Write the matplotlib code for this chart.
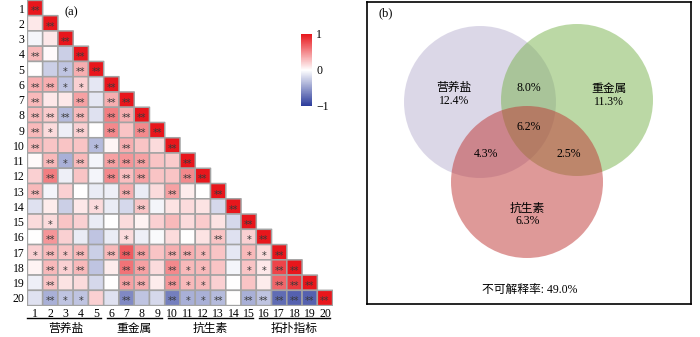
import numpy as np
import matplotlib
matplotlib.use('Agg')
import matplotlib.pyplot as plt
from matplotlib.colors import LinearSegmentedColormap
from matplotlib.patches import Circle

plt.rcParams['font.family'] = ['Liberation Serif', 'Noto Sans CJK SC']
plt.rcParams['axes.unicode_minus'] = True

# ---------------- data ----------------
var_labels = [str(i) for i in range(1, 21)]
group_names = ['营养盐', '重金属', '抗生素', '拓扑指标']
group_spans = [(1, 5), (6, 9), (10, 15), (16, 20)]

r01 = [1.0]
r02 = [0.10, 1.0]
r03 = [-0.05, 0.10, 1.0]
r04 = [0.30, 0.02, -0.25, 1.0]
r05 = [0.00, -0.25, -0.30, 0.35, 1.0]
r06 = [0.35, 0.35, -0.30, 0.20, -0.12, 1.0]
r07 = [0.30, 0.10, 0.10, 0.40, -0.12, 0.35, 1.0]
r08 = [0.30, 0.22, -0.35, 0.30, -0.15, 0.55, 0.35, 1.0]
r09 = [0.30, 0.15, -0.08, 0.20, 0.00, 0.50, 0.25, 0.50, 1.0]
r10 = [0.30, 0.25, 0.25, 0.25, -0.35, 0.04, 0.35, 0.25, 0.15, 1.0]
r11 = [0.03, 0.30, -0.40, 0.30, -0.05, 0.40, 0.45, 0.40, 0.25, 0.22, 1.0]
r12 = [0.20, 0.55, -0.08, 0.25, -0.05, 0.50, 0.28, 0.40, 0.25, 0.25, 0.50, 1.0]
r13 = [0.30, -0.05, 0.20, 0.00, -0.10, -0.08, 0.35, -0.10, 0.15, 0.40, 0.08, 0.00, 1.0]
r14 = [-0.15, 0.08, -0.25, 0.10, 0.15, -0.10, -0.20, 0.25, -0.05, 0.12, 0.15, 0.12, -0.20, 1.0]
r15 = [0.15, 0.15, 0.25, 0.20, -0.10, 0.00, 0.15, 0.05, 0.20, 0.30, 0.15, 0.22, 0.12, -0.20, 1.0]
r16 = [0.00, 0.45, 0.20, -0.10, -0.30, -0.10, 0.15, -0.08, -0.03, 0.15, 0.00, 0.12, 0.25, -0.15, 0.20, 1.0]
r17 = [0.20, 0.30, 0.25, 0.30, -0.25, 0.30, 0.70, 0.40, 0.25, 0.35, 0.35, 0.30, 0.25, -0.12, 0.30, 0.15, 1.0]
r18 = [0.05, 0.30, 0.20, 0.30, -0.30, 0.08, 0.60, 0.40, 0.15, 0.50, 0.30, 0.30, 0.25, -0.05, 0.25, 0.10, 0.80, 1.0]
r19 = [-0.08, 0.25, 0.12, 0.15, -0.20, 0.00, 0.40, 0.35, 0.08, 0.45, 0.30, 0.30, 0.20, 0.00, 0.25, 0.08, 0.65, 0.85, 1.0]
r20 = [-0.15, -0.40, -0.30, -0.30, 0.20, -0.15, -0.60, -0.30, -0.20, -0.65, -0.40, -0.40, -0.35, 0.00, -0.40, -0.30, -0.75, -0.80, -0.80, 1.0]

s01 = ['**']
s02 = ['', '**']
s03 = ['', '', '**']
s04 = ['**', '', '', '**']
s05 = ['', '', '*', '**', '**']
s06 = ['**', '**', '*', '*', '', '**']
s07 = ['**', '', '', '**', '', '**', '**']
s08 = ['**', '**', '**', '**', '', '**', '**', '**']
s09 = ['**', '*', '', '**', '', '**', '', '**', '**']
s10 = ['**', '', '', '', '*', '', '**', '', '', '**']
s11 = ['', '**', '*', '**', '', '**', '**', '**', '', '', '**']
s12 = ['', '**', '', '', '', '**', '**', '**', '', '', '**', '**']
s13 = ['**', '', '', '', '', '', '**', '', '', '**', '', '', '**']
s14 = ['', '', '', '', '*', '', '', '**', '', '', '', '', '', '**']
s15 = ['', '*', '', '', '', '', '', '', '', '', '', '', '', '', '**']
s16 = ['', '**', '', '', '', '', '*', '', '', '', '', '', '**', '', '*', '**']
s17 = ['*', '**', '*', '**', '', '**', '**', '**', '', '**', '**', '*', '', '', '*', '*', '**']
s18 = ['', '**', '*', '**', '', '', '**', '**', '', '**', '*', '*', '', '', '*', '*', '**', '**']
s19 = ['', '**', '', '', '', '', '**', '**', '', '**', '*', '*', '', '', '', '', '**', '**', '**']
s20 = ['', '**', '*', '*', '', '', '**', '', '', '**', '*', '*', '**', '', '**', '**', '**', '**', '**', '**']

corr_rows = [r01, r02, r03, r04, r05, r06, r07, r08, r09, r10,
             r11, r12, r13, r14, r15, r16, r17, r18, r19, r20]
sig_rows = [s01, s02, s03, s04, s05, s06, s07, s08, s09, s10,
            s11, s12, s13, s14, s15, s16, s17, s18, s19, s20]

venn_sets = ['营养盐', '重金属', '抗生素']
venn_unique = ['12.4%', '11.3%', '6.3%']
venn_pair_labels = ['8.0%', '4.3%', '2.5%']   # (营养盐,重金属), (营养盐,抗生素), (重金属,抗生素)
venn_center = '6.2%'
unexplained = '不可解释率: 49.0%'

# ---------------- build matrix ----------------
n = len(var_labels)
M = np.full((n, n), np.nan)
for i, row in enumerate(corr_rows):
    M[i, :len(row)] = row
Mm = np.ma.masked_invalid(M)

cmap = LinearSegmentedColormap.from_list('rb', ['#2b3b9b', '#ffffff', '#e8161c'])

fig = plt.figure(figsize=(7.0, 3.37), dpi=100)

# ---------------- heatmap ----------------
ax = fig.add_axes([27.4 / 700, 1 - 305.6 / 337, 305.2 / 700, 305.2 / 337])
ax.pcolor(np.arange(n + 1), np.arange(n + 1), Mm, cmap=cmap, vmin=-1, vmax=1,
          edgecolors='#a3a3a3', linewidth=1.1)
ax.set_xlim(0, n)
ax.set_ylim(n, 0)
for sp in ax.spines.values():
    sp.set_visible(False)
ax.set_xticks(np.arange(n) + 0.5)
ax.set_xticklabels(var_labels, fontsize=8.5)
ax.set_yticks(np.arange(n) + 0.5)
ax.set_yticklabels(var_labels, fontsize=8.5)
ax.tick_params(length=0, pad=2)

for i, srow in enumerate(sig_rows):
    for j, s in enumerate(srow):
        if s:
            ax.text(j + 0.5, i + 0.72, s, ha='center', va='center',
                    fontsize=7, color='#3a3a3a', family='DejaVu Sans')

for (a, b), name in zip(group_spans, group_names):
    x0 = a - 1 + (0.0 if a == 1 else 0.2)
    x1 = b - 0.2
    ax.plot([x0, x1], [20.82, 20.82], color='black', lw=1.0, clip_on=False)
    ax.text((a - 1 + b) / 2, 21.5, name, ha='center', va='center', fontsize=8.5,
            clip_on=False)

ax.text(2.9, 0.75, '(a)', fontsize=9, ha='center', va='center')

# colorbar
cax = fig.add_axes([301 / 700, 1 - 106 / 337, 11 / 700, 72 / 337])
sm = plt.cm.ScalarMappable(cmap=cmap, norm=plt.Normalize(-1, 1))
cb = fig.colorbar(sm, cax=cax, ticks=[-1, 0, 1])
cb.outline.set_visible(False)
cb.ax.set_yticklabels(['\u22121', '0', '1'], fontsize=8.5)
cb.ax.tick_params(length=0, pad=3)

# ---------------- Venn ----------------
vx = fig.add_axes([367 / 700, 1 - 304 / 337, 324 / 700, 302 / 337])
vx.set_xlim(0, 324)
vx.set_ylim(302, 0)
vx.set_xticks([])
vx.set_yticks([])
for sp in vx.spines.values():
    sp.set_linewidth(1.2)
    sp.set_color('black')

centers = [(113, 100), (210, 98), (160, 180)]
radius = 76
colors = ['#b9b1d1', '#79b34d', '#bf3533']
for (cx, cy), c in zip(centers, colors):
    vx.add_patch(Circle((cx, cy), radius, facecolor=c, alpha=0.5, edgecolor='none'))

fs = 8.5
vx.text(87, 86, venn_sets[0], ha='center', va='center', fontsize=fs)
vx.text(87, 99, venn_unique[0], ha='center', va='center', fontsize=fs)
vx.text(242, 87, venn_sets[1], ha='center', va='center', fontsize=fs)
vx.text(242, 100, venn_unique[1], ha='center', va='center', fontsize=fs)
vx.text(160, 207, venn_sets[2], ha='center', va='center', fontsize=fs)
vx.text(161, 219, venn_unique[2], ha='center', va='center', fontsize=fs)
vx.text(162, 86, venn_pair_labels[0], ha='center', va='center', fontsize=fs)
vx.text(119, 152, venn_pair_labels[1], ha='center', va='center', fontsize=fs)
vx.text(202, 152, venn_pair_labels[2], ha='center', va='center', fontsize=fs)
vx.text(162, 125, venn_center, ha='center', va='center', fontsize=fs)
vx.text(163, 288, unexplained, ha='center', va='center', fontsize=fs)
vx.text(19, 11, '(b)', ha='center', va='center', fontsize=9)

fig.savefig('out.png', dpi=100)
